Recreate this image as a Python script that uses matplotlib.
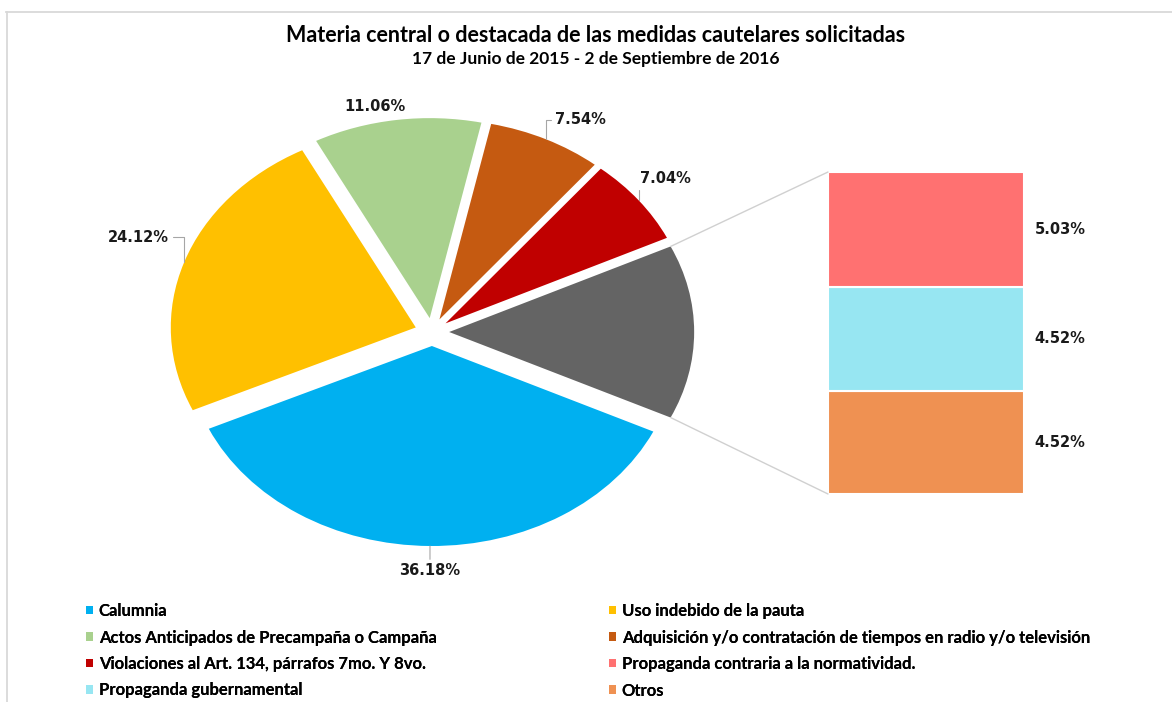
import matplotlib
matplotlib.use('Agg')
import matplotlib.pyplot as plt
import numpy as np
from matplotlib.patches import Patch, ConnectionPatch
from matplotlib.lines import Line2D

# ---------------- data ----------------
title = "Materia central o destacada de las medidas cautelares solicitadas"
subtitle = "17 de Junio de 2015 - 2 de Septiembre de 2016"

pie_labels = ["Calumnia",
              "Uso indebido de la pauta",
              "Actos Anticipados de Precampaña o Campaña",
              "Adquisición y/o contratación de tiempos en radio y/o televisión",
              "Violaciones al Art. 134, párrafos 7mo. Y 8vo."]
pie_values = [36.18, 24.12, 11.06, 7.54, 7.04]
pie_colors = ["#00B0F0", "#FFC000", "#A9D18E", "#C55A11", "#C00000"]

bar_labels = ["Propaganda contraria a la normatividad.",
              "Propaganda gubernamental",
              "Otros"]
bar_values = [5.03, 4.52, 4.52]
bar_colors = ["#FF7171", "#97E6F2", "#EF9152"]
other_color = "#646464"

# ---------------- layout / style ----------------
W, H = 1172, 702
DPI = 100
narrow = ['Lato', 'DejaVu Sans']
lab_font = ['DejaVu Sans']
leader_col = '#a6a6a6'

fig = plt.figure(figsize=(W / DPI, H / DPI), dpi=DPI)
fig.patch.set_facecolor('white')

# chart border (top & left visible)
fig.add_artist(Line2D([6 / W, 1], [1 - 11.5 / H] * 2, transform=fig.transFigure,
                      color='#d9d9d9', lw=1.3))
fig.add_artist(Line2D([6.5 / W] * 2, [0, 1 - 11.5 / H], transform=fig.transFigure,
                      color='#d9d9d9', lw=1.3))

fig.text(596 / W, 1 - 36 / H, title, ha='center', va='center', family=narrow,
         fontweight='bold', fontsize=15.5)
fig.text(596 / W, 1 - 59 / H, subtitle, ha='center', va='center', family=narrow,
         fontweight='bold', fontsize=12.5)

# ---------------- pie (elliptical) ----------------
ax1 = fig.add_axes([138 / W, 130 / H, 588 / W, 480 / H])
values = pie_values + [sum(bar_values)]
colors = pie_colors + [other_color]
frac_other = values[-1] / sum(values)
wedges, _ = ax1.pie(values, colors=colors, startangle=-180 * frac_other,
                    counterclock=False, explode=[0.07] * len(values), radius=1.0,
                    wedgeprops=dict(linewidth=0))
ax1.set_aspect('auto')
ax1.set_xlim(-1.2, 1.2)
ax1.set_ylim(-1.2, 1.2)
ax1.axis('off')

# label offsets (points) and leader styles for each pie label
offsets = [(0, -18), (-33, 18), (-16, 9.5), (25, 14), (19, 16)]
leaders = ['arc3', 'angle,angleA=0,angleB=90,rad=0', None,
           'angle,angleA=0,angleB=90,rad=0', 'angle,angleA=0,angleB=90,rad=0']
for w, v, off, ld in zip(wedges[:-1], pie_values, offsets, leaders):
    m = np.deg2rad((w.theta1 + w.theta2) / 2)
    cx, cy = w.center
    anchor = (cx + w.r * np.cos(m), cy + w.r * np.sin(m))
    kw = {}
    if ld is not None:
        kw['arrowprops'] = dict(arrowstyle='-', color=leader_col, lw=0.8,
                                connectionstyle=ld, shrinkA=1, shrinkB=0)
    ax1.annotate(f"{v:.2f}%", xy=anchor, xycoords='data', xytext=off,
                 textcoords='offset points', ha='center', va='center',
                 family=lab_font, fontweight='bold', fontsize=10.5, color='#1a1a1a', **kw)

# ---------------- bar of pie ----------------
ax2 = fig.add_axes([828 / W, (H - 494) / H, 196 / W, 322 / H])
total = sum(bar_values)
bottom = 0.0
for v, c in zip(bar_values[::-1], bar_colors[::-1]):
    ax2.bar(0, v, width=1.0, bottom=bottom, color=c, edgecolor='white', linewidth=1.5)
    ax2.text(0.555, bottom + v / 2, f"{v:.2f}%", ha='left', va='center',
             family=lab_font, fontweight='bold', fontsize=10.5, color='#1a1a1a',
             clip_on=False)
    bottom += v
ax2.set_xlim(-0.5, 0.5)
ax2.set_ylim(0, total)
ax2.axis('off')

# connector lines from the grouped wedge to the bar
gw = wedges[-1]
gx, gy = gw.center
for th, yb in [(gw.theta2, total), (gw.theta1, 0)]:
    t = np.deg2rad(th)
    p = (gx + gw.r * np.cos(t), gy + gw.r * np.sin(t))
    con = ConnectionPatch(xyA=p, coordsA=ax1.transData, xyB=(-0.5, yb),
                          coordsB=ax2.transData, color='#d0d0d0', lw=1.0)
    fig.add_artist(con)

# ---------------- legend (row-major, 2 columns) ----------------
all_labels = pie_labels + bar_labels
all_colors = pie_colors + bar_colors
handles = [Patch(facecolor=c, edgecolor='none') for c in all_colors]
col1 = [0, 2, 4, 6]
col2 = [1, 3, 5, 7]
for idx, x0 in [(col1, 86), (col2, 609)]:
    leg = fig.legend([handles[i] for i in idx], [all_labels[i] for i in idx],
                     loc='upper left', bbox_to_anchor=(x0 / W, 1 - 603 / H),
                     bbox_transform=fig.transFigure, frameon=False, ncol=1,
                     prop=dict(family=narrow, weight='bold', size=12),
                     handlelength=0.42, handleheight=0.42, handletextpad=0.35,
                     labelspacing=0.63, borderpad=0, borderaxespad=0)
    fig.add_artist(leg)

fig.savefig('out.png', dpi=DPI, facecolor='white')
